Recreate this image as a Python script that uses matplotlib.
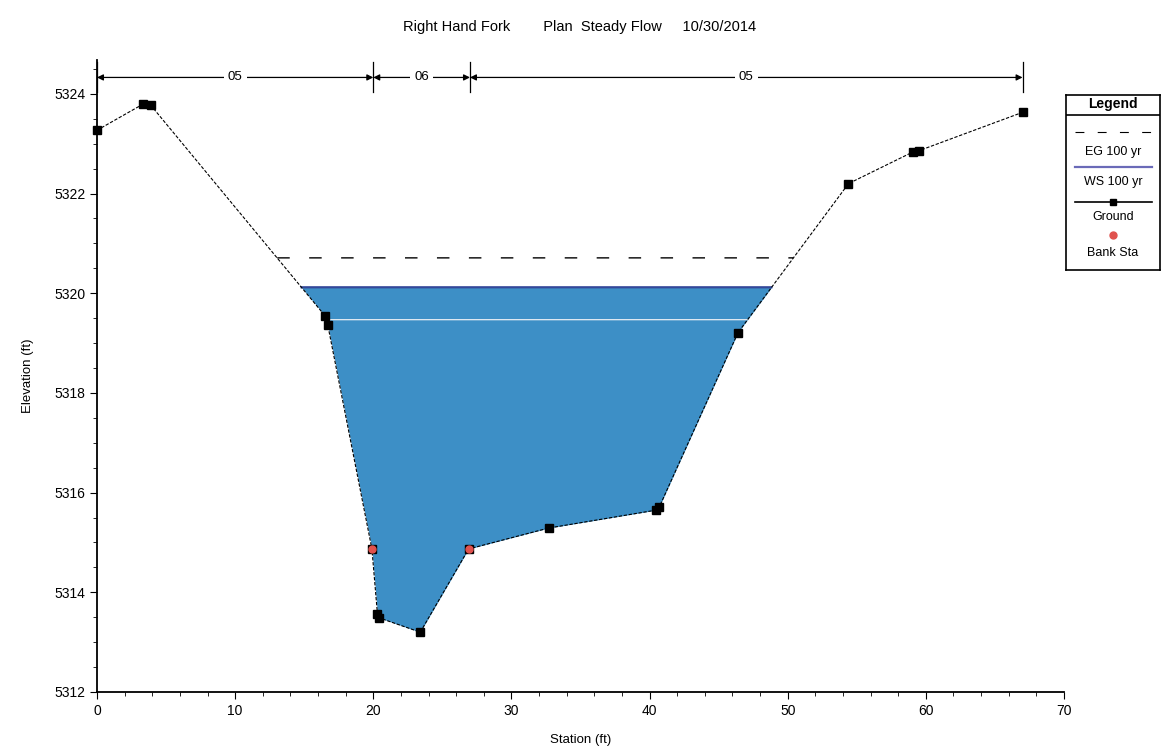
import numpy as np
import matplotlib.pyplot as plt
from matplotlib.ticker import MultipleLocator

plt.rcParams['font.family'] = ['Liberation Sans', 'DejaVu Sans']

# cross section data
station = [0.0, 3.3, 3.9, 16.5, 16.7, 19.9, 20.3, 20.4, 23.4, 26.9, 32.7, 40.5, 40.7, 46.4, 54.4, 59.1, 59.5, 67.0]
ground = [5323.27, 5323.79, 5323.77, 5319.55, 5319.37, 5314.87, 5313.57, 5313.49, 5313.2,
          5314.87, 5315.29, 5315.65, 5315.71, 5319.21, 5322.2, 5322.84, 5322.86, 5323.63]
bank_sta = [19.9, 26.9]
bank_elev = [5314.87, 5314.87]
ws_elev = 5320.12
eg_elev = 5320.71
mid_line = 5319.47

# manning n zones along the top
n_edges = [0.0, 20.0, 27.0, 67.0]
n_labels = ['05', '06', '05']

px = 1 / 100
fig = plt.figure(figsize=(1164 * px, 753 * px), dpi=100)
ax = fig.add_axes([97 / 1164, 1 - 692 / 753, (1064 - 97) / 1164, (692 - 60) / 753])

xs = np.linspace(station[0], station[-1], 3000)
gs = np.interp(xs, station, ground)

# water fill
ax.fill_between(xs, gs, ws_elev, where=gs <= ws_elev, interpolate=True,
                color='#3d8fc6', lw=0, zorder=1)
ax.plot(xs, np.where(gs <= ws_elev, ws_elev, np.nan), color='#34489a', lw=1.6, zorder=2)
ax.plot(xs, np.where(gs <= mid_line, mid_line, np.nan), color='#e8eef4', lw=0.9, zorder=2)

# energy grade
ax.plot(xs, np.where(gs <= eg_elev, eg_elev, np.nan), color='black', lw=1.0,
        linestyle=(0, (9, 14)), zorder=3)

# ground
ax.plot(station, ground, color='black', lw=0.8, linestyle=(0, (3, 1.5)), zorder=4)
ax.plot(station, ground, 's', color='black', ms=5.5, zorder=5, clip_on=False)
ax.plot(bank_sta, bank_elev, 'o', color='#e0524e', ms=5, zorder=6)

# n value bands
y_band = 5324.33
for i, lab in enumerate(n_labels):
    ax.annotate('', xy=(n_edges[i], y_band), xytext=(n_edges[i + 1], y_band),
                arrowprops=dict(arrowstyle='<|-|>', color='black', lw=0.9,
                                shrinkA=0, shrinkB=0, mutation_scale=9))
    ax.text((n_edges[i] + n_edges[i + 1]) / 2, y_band, lab, ha='center', va='center',
            fontsize=9.5, bbox=dict(facecolor='white', edgecolor='none', pad=3))
for e in n_edges:
    ax.plot([e, e], [y_band - 0.3, y_band + 0.3], color='black', lw=0.9)

ax.set_xlim(0, 70)
ax.set_ylim(5312, 5324.68)
ax.xaxis.set_major_locator(MultipleLocator(10))
ax.xaxis.set_minor_locator(MultipleLocator(2))
ax.yaxis.set_major_locator(MultipleLocator(2))
ax.yaxis.set_minor_locator(MultipleLocator(0.5))
ax.tick_params(which='both', direction='out', labelsize=10, color='black')
ax.tick_params(which='major', length=5)
ax.tick_params(which='minor', length=3)
ax.spines['top'].set_visible(False)
ax.spines['right'].set_visible(False)
ax.spines['left'].set_linewidth(1.3)
ax.spines['bottom'].set_linewidth(1.3)

ax.set_xlabel('Station (ft)', fontsize=9.5, labelpad=12)
ax.set_ylabel('Elevation (ft)', fontsize=9.5, labelpad=14)
fig.text(580 / 1164, 1 - 27 / 753, 'Right Hand Fork        Plan  Steady Flow     10/30/2014',
         ha='center', va='center', fontsize=10.5)

# legend box drawn by hand like HEC-RAS
lg = fig.add_axes([1066 / 1164, 1 - 270 / 753, 94 / 1164, 175 / 753])
lg.set_xlim(0, 94)
lg.set_ylim(175, 0)
lg.set_xticks([])
lg.set_yticks([])
for s in lg.spines.values():
    s.set_linewidth(1.2)
lg.axhline(20, color='black', lw=1.2)
lg.text(47, 9, 'Legend', ha='center', va='center', fontsize=10, fontweight='bold')
lg.plot([9, 86], [37, 37], color='black', lw=0.8, linestyle=(0, (8, 12)))
lg.text(47, 57, 'EG 100 yr', ha='center', va='center', fontsize=9)
lg.plot([9, 86], [72, 72], color='#6a6ab8', lw=1.6)
lg.text(47, 87, 'WS 100 yr', ha='center', va='center', fontsize=9)
lg.plot([9, 86], [107, 107], color='black', lw=1.2)
lg.plot([47], [107], 's', color='black', ms=5)
lg.text(47, 122, 'Ground', ha='center', va='center', fontsize=9)
lg.plot([47], [140], 'o', color='#e0524e', ms=5)
lg.text(47, 158, 'Bank Sta', ha='center', va='center', fontsize=9)

fig.savefig('out.png', dpi=100)
